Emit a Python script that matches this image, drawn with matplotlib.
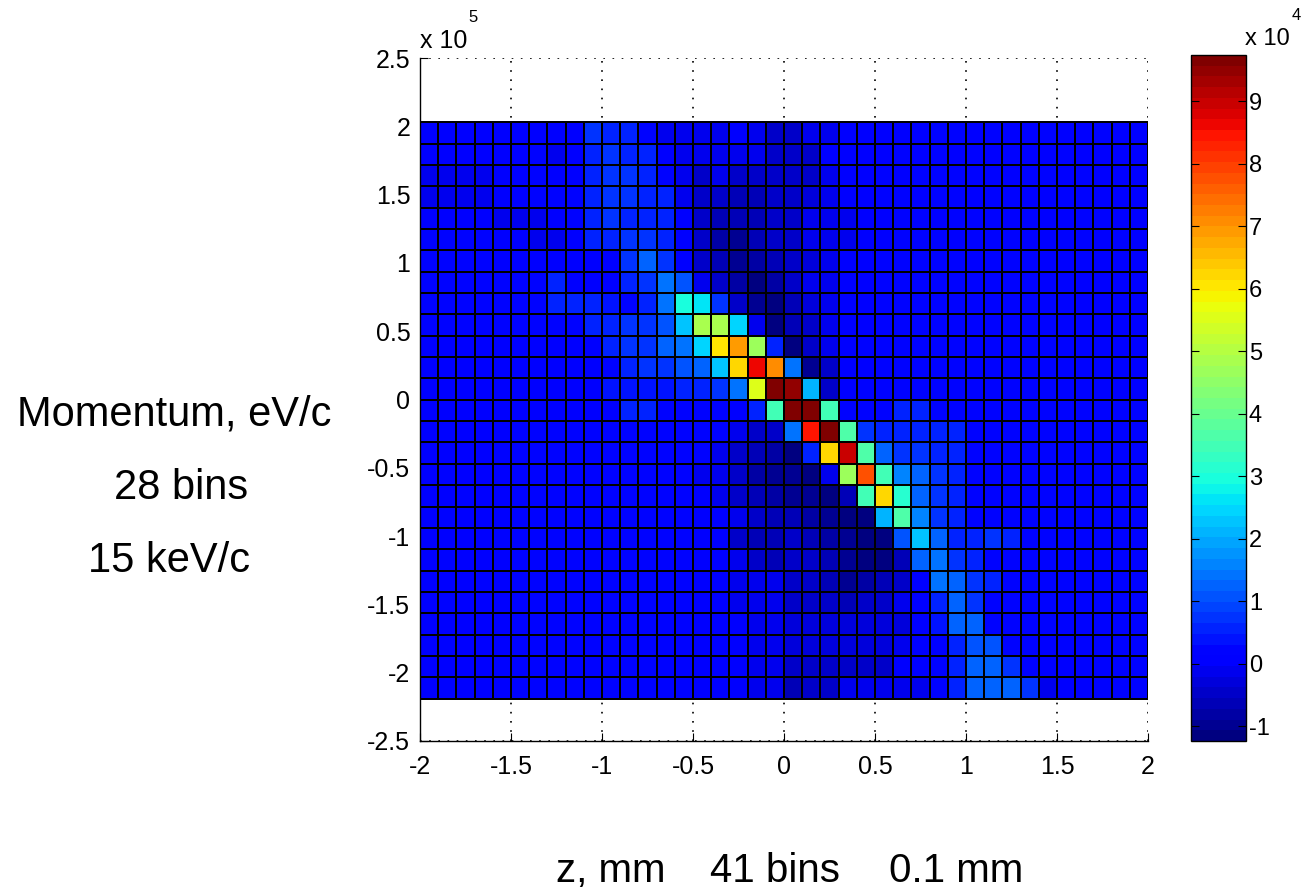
import numpy as np
import matplotlib
matplotlib.use('Agg')
import matplotlib.pyplot as plt

plt.rcParams['font.family'] = ['Liberation Sans', 'DejaVu Sans']

# bin edges: z in mm (40 cells drawn), momentum in eV/c (27 cells drawn)
z_edges = np.linspace(-2.0, 2.0, 41)
p_edges = np.linspace(2.03e5, -2.19e5, 28)

# cell values in units of 1e3, first row = highest momentum
counts_k = [
    [1, 1, 1, 1, 1, 1, 0, 1, 1, 8, 6, 5, 3, -1, -1, -2, -1, 0, -1, -4, -5, -2, -1, 1, 1, 1, 1, 1, 2, 2, 1, 2, 1, 1, 2, 1, 1, 2, 1, 1],
    [0, 0, 1, 1, 1, 1, 3, -1, 1, 6, 7, 6, 5, 0, -2, -2, -1, -1, -2, -5, -4, -4, 0, 1, 1, 1, 2, 1, 2, 1, 2, 1, 2, 1, 1, 2, 1, 1, 1, 1],
    [-1, -1, -1, -1, 1, 1, 3, 0, 1, 5, 7, 8, 6, 3, -2, -4, -2, -4, -5, -5, -5, -4, -1, 1, 1, 2, 1, 2, 2, 3, 2, 2, 1, 2, 2, 1, 2, 1, 1, 1],
    [-1, -1, -1, -1, 1, 1, 3, 3, 3, 5, 7, 8, 6, 5, -1, -4, -5, -7, -6, -5, -4, -3, -1, 0, 1, 2, 2, 1, 2, 2, 1, 2, 2, 1, 1, 2, 2, 1, 1, 1],
    [1, 1, 1, 1, -1, -2, -1, 1, 3, 6, 7, 6, 6, 5, 0, -5, -6, -7, -7, -5, -4, -2, -1, -1, 1, 1, 2, 2, 1, 2, 2, 2, 1, 2, 1, 1, 2, 2, 1, 1],
    [3, 3, 3, 3, 1, 1, -1, -1, 1, 5, 6, 8, 7, 5, 1, -4, -8, -10, -7, -5, -5, -2, -2, -1, 1, 1, 2, 2, 2, 1, 2, 2, 2, 1, 1, 2, 2, 1, 2, 1],
    [3, 3, 3, 3, 1, 1, 1, 1, 0, 1, 1, 7, 12, 8, 1, -4, -7, -10, -8, -6, -5, -3, -2, 0, 1, 2, 2, 2, 2, 2, 1, 2, 2, 2, 1, 1, 2, 1, 1, 1],
    [2, 2, 3, 2, 2, 2, 2, 5, 1, 1, 1, 6, 8, 15, 10, -1, -5, -8, -11, -8, -5, -2, -1, 1, 1, 2, 2, 2, 2, 2, 2, 2, 2, 2, 1, 2, 1, 1, 1, 1],
    [2, 2, 2, 2, 2, 2, 2, 5, 6, 5, 4, 2, 5, 15, 29, 26, 8, -5, -10, -11, -6, -3, -1, 1, 1, 2, 2, 2, 2, 3, 2, 2, 2, 2, 2, 2, 1, 1, 1, 1],
    [2, 2, 2, 2, 2, 2, 2, 2, 2, 5, 6, 7, 8, 11, 22, 49, 48, 25, -1, -11, -7, -4, -1, 1, 1, 2, 2, 2, 3, 2, 2, 2, 3, 2, 2, 2, 2, 1, 1, 1],
    [1, 1, 1, 1, 1, 1, 1, 1, 1, 1, 5, 7, 8, 12, 15, 25, 60, 69, 46, 6, -11, -5, -1, 1, 2, 2, 2, 2, 2, 2, 3, 2, 2, 2, 3, 2, 2, 2, 1, 1],
    [1, 1, 1, 1, 1, 1, 1, 1, 1, 0, 3, 6, 7, 8, 11, 12, 22, 62, 86, 71, 15, -9, -5, 1, 1, 2, 2, 2, 2, 2, 2, 2, 2, 2, 2, 2, 2, 2, 2, 1],
    [1, 1, 1, 1, 1, 1, 1, 1, 1, 1, 4, 4, 4, 4, 5, 6, 7, 15, 55, 96, 95, 21, -4, 1, 2, 2, 2, 2, 2, 2, 2, 2, 2, 2, 2, 2, 2, 2, 1, 1],
    [1, 1, 1, 1, 1, 1, 1, 1, 1, 1, 1, 5, 5, 3, 2, 2, 2, 0, 6, 34, 97, 96, 34, 3, 2, 2, 5, 5, 2, 2, 2, 2, 2, 2, 2, 2, 2, 2, 2, 2],
    [1, 2, 1, 1, 1, 3, 3, 2, 3, 3, 3, 3, 3, 3, 3, 3, 2, -1, -5, -5, 15, 84, 96, 37, 8, 6, 6, 6, 5, 5, 3, 2, 2, 2, 2, 2, 2, 2, 2, 2],
    [1, 1, 1, 1, 2, 3, 3, 3, 2, 3, 3, 3, 3, 3, 3, 2, -1, -4, -6, -8, -11, 6, 62, 90, 37, 12, 8, 8, 6, 5, 3, 3, 2, 2, 2, 2, 2, 2, 2, 2],
    [1, 2, 1, 1, 1, 3, 2, 3, 3, 3, 3, 3, 3, 3, 3, -1, -2, -5, -8, -10, -10, -11, -2, 46, 77, 35, 16, 12, 8, 6, 3, 2, 2, 2, 2, 2, 2, 2, 2, 2],
    [1, 1, 2, 1, 1, 3, 3, 2, 3, 3, 3, 3, 3, 3, 2, 1, -2, -4, -6, -8, -9, -10, -11, -7, 35, 62, 31, 12, 8, 6, 3, 2, 2, 2, 2, 2, 2, 2, 2, 2],
    [1, 2, 1, 1, 1, 3, 3, 3, 3, 3, 3, 3, 3, 3, 2, 1, 0, -2, -5, -7, -7, -8, -10, -11, -11, 21, 37, 16, 8, 6, 3, 3, 2, 2, 2, 2, 2, 2, 2, 2],
    [1, 1, 1, 1, 2, 3, 2, 3, 3, 3, 2, 3, 3, 3, 2, 1, 0, -4, -6, -7, -5, -6, -8, -10, -11, -12, 11, 22, 12, 6, 6, 7, 6, 3, 2, 2, 2, 2, 2, 2],
    [1, 2, 1, 1, 1, 3, 3, 3, 2, 3, 3, 3, 3, 2, 2, 1, 0, -1, -5, -6, -5, -5, -7, -10, -11, -11, -6, 12, 15, 8, 5, 3, 2, 2, 2, 2, 2, 2, 2, 2],
    [1, 1, 1, 2, 1, 3, 3, 3, 3, 3, 3, 2, 3, 3, 2, 1, 0, -2, -2, -2, -4, -5, -6, -9, -8, -6, -4, 0, 14, 12, 8, 5, 3, 2, 2, 2, 2, 2, 2, 2],
    [1, 2, 1, 1, 1, 3, 2, 3, 3, 3, 3, 3, 3, 3, 2, 1, 0, -2, -2, -2, -4, -4, -4, -6, -5, -5, -2, 0, 6, 13, 8, 3, 2, 2, 2, 2, 2, 2, 2, 2],
    [1, 1, 1, 1, 1, 3, 3, 3, 2, 3, 3, 3, 3, 3, 2, 1, 0, 0, -2, -2, -3, -3, -3, -3, -3, -3, -3, 0, 4, 12, 12, 3, 2, 2, 2, 2, 2, 2, 2, 2],
    [1, 2, 1, 1, 1, 3, 3, 3, 3, 3, 3, 3, 3, 2, 2, 1, 0, 0, -1, -2, -3, -3, -3, -3, -3, -3, -1, 1, 1, 6, 11, 10, 3, 2, 1, 2, 2, 2, 2, 2],
    [1, 1, 1, 1, 2, 3, 3, 3, 3, 3, 2, 3, 3, 3, 2, 1, 0, 0, -1, -2, -5, -4, -4, -4, -4, -4, 0, 1, 3, 6, 12, 12, 8, 3, 1, 1, 2, 2, 2, 2],
    [1, 2, 1, 1, 1, 3, 3, 3, 3, 3, 3, 3, 3, 3, 2, 1, 1, 0, -1, -2, -7, -4, -4, -1, -1, -1, -1, -1, 3, 6, 12, 13, 12, 8, -2, 1, 1, 2, 2, 2],
]

x_ticks = [-2, -1.5, -1, -0.5, 0, 0.5, 1, 1.5, 2]
x_labels = ['-2', '-1.5', '-1', '-0.5', '0', '0.5', '1', '1.5', '2']
y_ticks = [2.5e5, 2e5, 1.5e5, 1e5, 0.5e5, 0, -0.5e5, -1e5, -1.5e5, -2e5, -2.5e5]
y_labels = ['2.5', '2', '1.5', '1', '0.5', '0', '-0.5', '-1', '-1.5', '-2', '-2.5']
cb_ticks = [-1e4, 0, 1e4, 2e4, 3e4, 4e4, 5e4, 6e4, 7e4, 8e4, 9e4]
cb_labels = ['-1', '0', '1', '2', '3', '4', '5', '6', '7', '8', '9']

W, H = 1305, 894
fig = plt.figure(figsize=(W / 100, H / 100), dpi=100)
ax = fig.add_axes([420 / W, 1 - 741 / H, 728 / W, 683 / H])

C = np.array(counts_k) * 1e3
cmap = plt.get_cmap('jet', 64)
mesh = ax.pcolormesh(z_edges, p_edges, C, cmap=cmap, vmin=-1.235e4, vmax=9.74e4,
                     edgecolors='k', linewidth=1.3)

ax.set_xlim(-2, 2)
ax.set_ylim(-2.5e5, 2.5e5)
ax.set_xticks(x_ticks)
ax.set_xticklabels(x_labels)
ax.set_yticks(y_ticks)
ax.set_yticklabels(y_labels)
ax.grid(True, linestyle=(0, (1, 4.5)), color='k', linewidth=1.2)
ax.set_axisbelow(True)
ax.spines['top'].set_visible(False)
ax.spines['right'].set_visible(False)
ax.tick_params(direction='in', length=6, labelsize=18, pad=7, colors='k')
ax.tick_params(axis='x', pad=10)
for s in ['left', 'bottom']:
    ax.spines[s].set_linewidth(1.0)

# exponent label of the y axis
fig.text(420 / W, 1 - 48 / H, 'x 10', fontsize=18, ha='left', va='baseline')
fig.text(468 / W, 1 - 22 / H, '5', fontsize=12, ha='left', va='baseline')

# colorbar
cax = fig.add_axes([1191 / W, 1 - 741 / H, 55 / W, 686 / H])
cb = fig.colorbar(mesh, cax=cax, ticks=cb_ticks)
cb.ax.set_yticklabels(cb_labels)
cb.ax.tick_params(direction='in', length=6, left=True, right=True,
                  labelleft=False, labelright=True, labelsize=17, pad=2)
cb.outline.set_linewidth(1.0)
fig.text(1245 / W, 1 - 45 / H, 'x 10', fontsize=17, ha='left', va='baseline')
fig.text(1292 / W, 1 - 20 / H, '4', fontsize=12, ha='left', va='baseline')

# axis descriptions
fig.text(174 / W, 1 - 425 / H, 'Momentum, eV/c', fontsize=30, ha='center', va='baseline')
fig.text(181 / W, 1 - 499 / H, '28 bins', fontsize=30, ha='center', va='baseline')
fig.text(169 / W, 1 - 572 / H, '15 keV/c', fontsize=30, ha='center', va='baseline')
fig.text(611 / W, 1 - 882 / H, 'z, mm', fontsize=29, ha='center', va='baseline')
fig.text(775 / W, 1 - 882 / H, '41 bins', fontsize=29, ha='center', va='baseline')
fig.text(956 / W, 1 - 882 / H, '0.1 mm', fontsize=29, ha='center', va='baseline')

fig.savefig('out.png', dpi=100)
